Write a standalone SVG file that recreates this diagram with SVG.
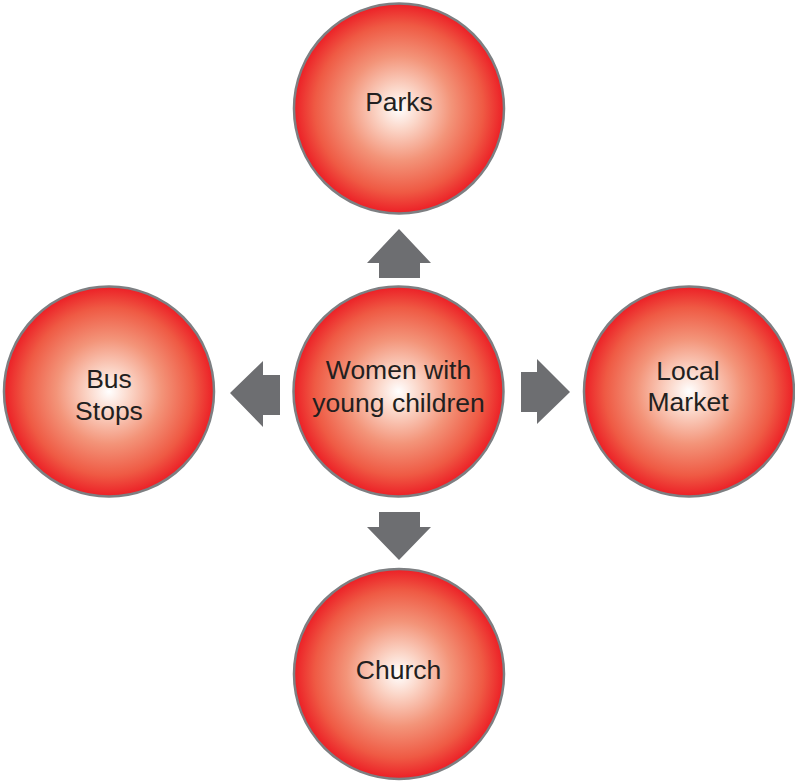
<svg xmlns="http://www.w3.org/2000/svg" width="795" height="781" viewBox="0 0 795 781">
  <style>
    .node circle { fill: url(#ballFill); stroke: #7d7f82; stroke-width: 2.5; }
    .node text { font-family: "Liberation Sans", Arial, sans-serif; font-size: 26.5px; fill: #231f20; text-anchor: middle; }
    .arrow { fill: #6d6e71; }
  </style>
  <defs>
    <radialGradient id="ballFill" cx="0.5" cy="0.5" r="0.5">
      <stop offset="0" stop-color="#ffffff"/>
      <stop offset="0.2" stop-color="#fbd6c8"/>
      <stop offset="0.5" stop-color="#f39479"/>
      <stop offset="0.8" stop-color="#ef5a44"/>
      <stop offset="1" stop-color="#ec1f26"/>
    </radialGradient>
  </defs>

  <rect width="795" height="781" fill="#ffffff"/>

  <!-- connectors: block arrows pointing out from the centre node -->
  <g id="connectors">
    <polygon class="arrow" points="399,229 431,263 420,263 420,278 379,278 379,263 367,263"/>
    <polygon class="arrow" points="399,560 431,527 420,527 420,512 379,512 379,527 367,527"/>
    <polygon class="arrow" points="230,393 263,361 263,375 280,375 280,415 263,415 263,427"/>
    <polygon class="arrow" points="570,392 537,359 537,372 521,372 521,412 537,412 537,424"/>
  </g>

  <g id="node-parks" class="node">
    <circle cx="399" cy="108.5" r="105"/>
    <text x="399" y="111">Parks</text>
  </g>

  <g id="node-centre" class="node">
    <circle cx="398.5" cy="391.5" r="105"/>
    <text x="398.5" y="379">Women with</text>
    <text x="398.5" y="412">young children</text>
  </g>

  <g id="node-bus-stops" class="node">
    <circle cx="109" cy="391.5" r="105"/>
    <text x="109" y="388">Bus</text>
    <text x="109" y="420">Stops</text>
  </g>

  <g id="node-local-market" class="node">
    <circle cx="689" cy="391.5" r="105"/>
    <text x="688" y="380">Local</text>
    <text x="688" y="411">Market</text>
  </g>

  <g id="node-church" class="node">
    <circle cx="399" cy="674" r="105"/>
    <text x="398.5" y="679">Church</text>
  </g>
</svg>
